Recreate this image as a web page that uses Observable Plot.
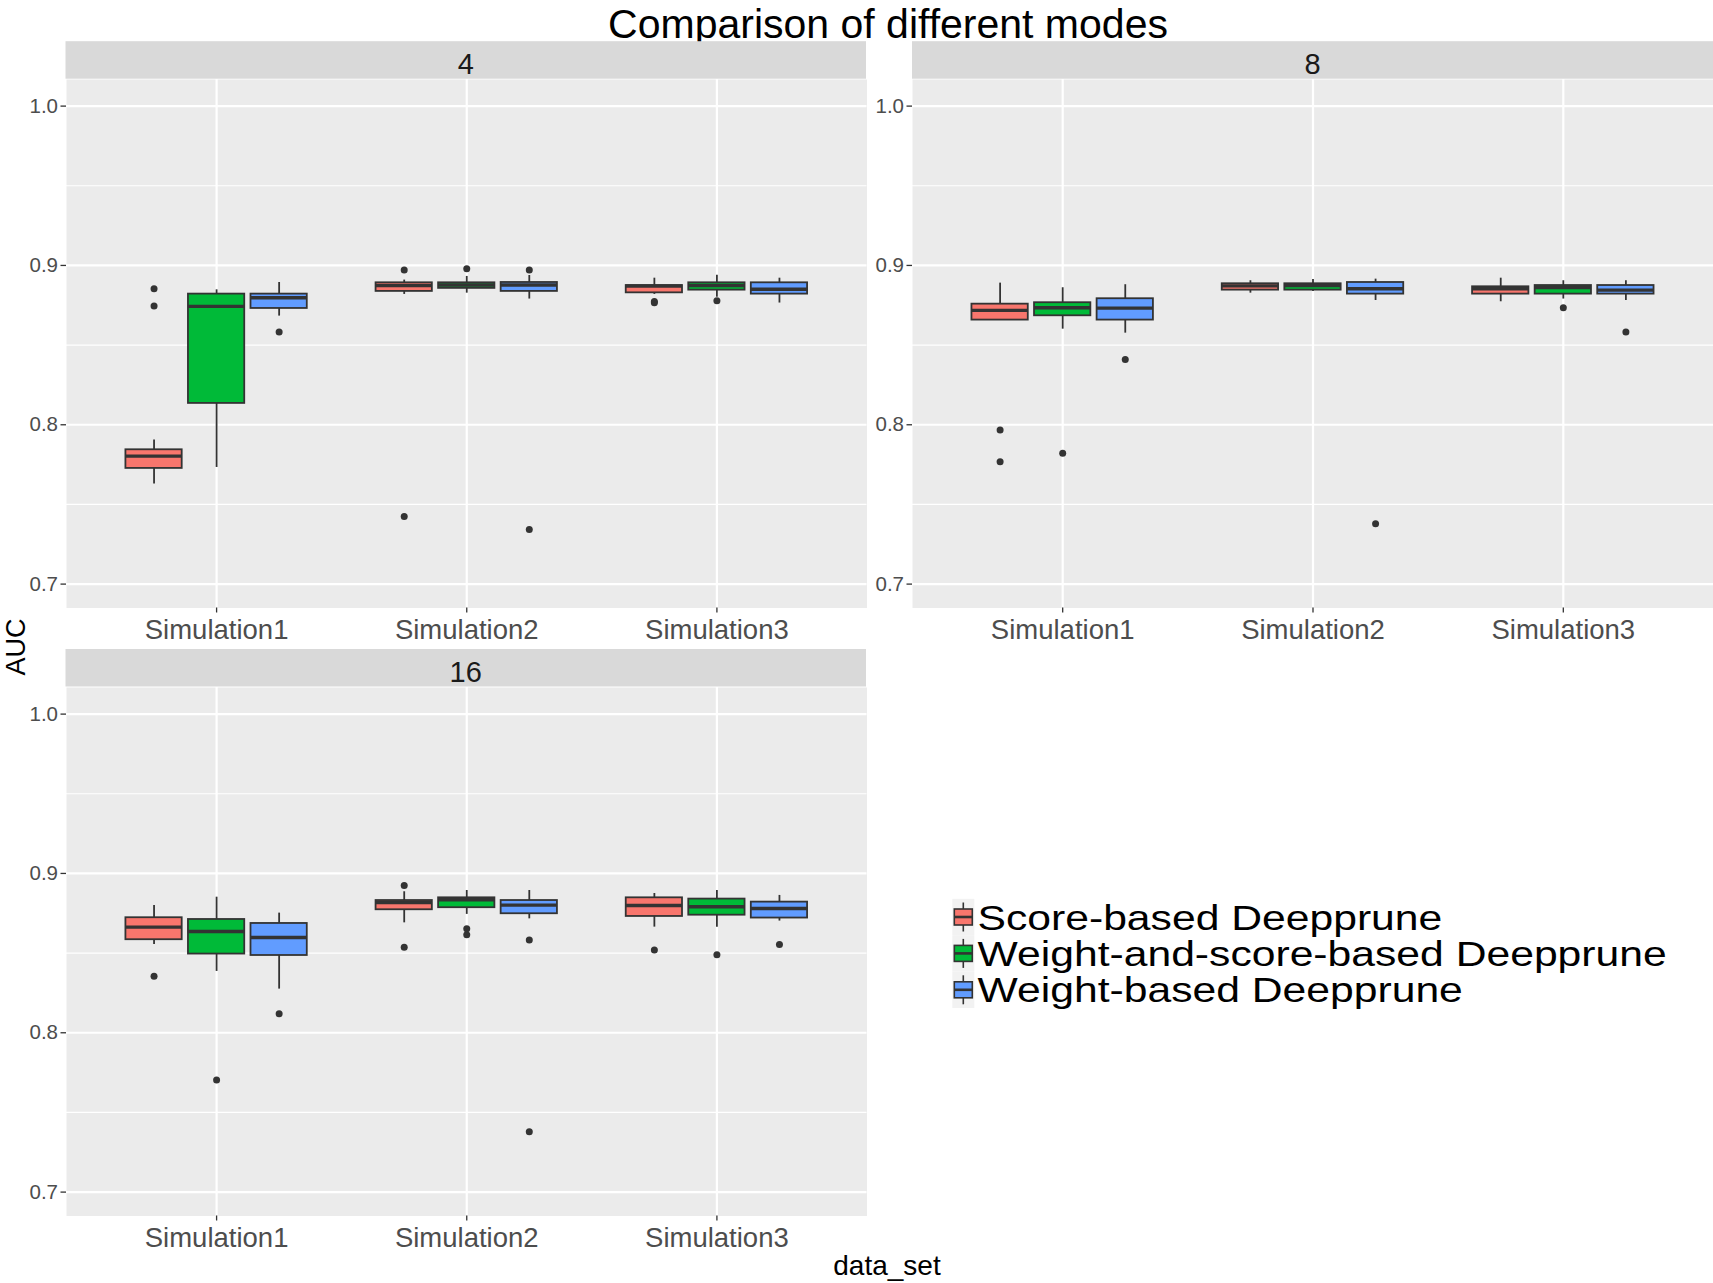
<!DOCTYPE html>
<html><head><meta charset="utf-8">
<script src="https://cdn.jsdelivr.net/npm/d3@7"></script>
<script src="https://cdn.jsdelivr.net/npm/@observablehq/plot@0.6"></script>
<style>
html,body{margin:0;padding:0;background:#fff;}
#fig{position:relative;width:1713px;height:1283px;overflow:hidden;font-family:"Liberation Sans",Arial,sans-serif;}
#fig > svg{position:absolute;}
</style></head><body><div id="fig"></div>
<script>
// ---------- data ----------
const panels = ["4", "8", "16"];
const dataSets = ["Simulation1", "Simulation2", "Simulation3"];
const modes = ["Score-based Deepprune", "Weight-and-score-based Deepprune", "Weight-based Deepprune"];
const modeColors = ["#F8766D", "#00BA38", "#619CFF"];
const yBreaks = [0.7, 0.8, 0.9, 1.0];
const yMinorBreaks = [0.75, 0.85, 0.95];
const title = "Comparison of different modes";
const xTitle = "data_set";
const yTitle = "AUC";

// box statistics, ordered panel -> data set -> mode
const lowerWhisker = [
  0.7628, 0.7732, 0.8682, 0.8818, 0.8826, 0.8789, 0.8818, 0.8800, 0.8764,
  0.8657, 0.8600, 0.8575, 0.8826, 0.8837, 0.8780, 0.8772, 0.8789, 0.8780,
  0.8554, 0.8385, 0.8274, 0.8690, 0.8743, 0.8715, 0.8663, 0.8663, 0.8701
];
const q1 = [
  0.7726, 0.8134, 0.8730, 0.8837, 0.8856, 0.8837, 0.8828, 0.8845, 0.8820,
  0.8657, 0.8684, 0.8657, 0.8845, 0.8845, 0.8820, 0.8820, 0.8820, 0.8820,
  0.8584, 0.8494, 0.8485, 0.8772, 0.8785, 0.8747, 0.8730, 0.8738, 0.8720
];
const median = [
  0.7803, 0.8743, 0.8797, 0.8874, 0.8877, 0.8877, 0.8870, 0.8874, 0.8851,
  0.8718, 0.8734, 0.8732, 0.8872, 0.8874, 0.8854, 0.8854, 0.8862, 0.8845,
  0.8663, 0.8636, 0.8598, 0.8818, 0.8835, 0.8801, 0.8799, 0.8791, 0.8780
];
const q3 = [
  0.7843, 0.8820, 0.8820, 0.8891, 0.8891, 0.8893, 0.8874, 0.8891, 0.8891,
  0.8757, 0.8766, 0.8791, 0.8885, 0.8885, 0.8893, 0.8866, 0.8874, 0.8874,
  0.8722, 0.8711, 0.8686, 0.8830, 0.8847, 0.8830, 0.8847, 0.8839, 0.8820
];
const upperWhisker = [
  0.7904, 0.8847, 0.8893, 0.8908, 0.8931, 0.8937, 0.8920, 0.8939, 0.8920,
  0.8889, 0.8860, 0.8879, 0.8904, 0.8912, 0.8914, 0.8920, 0.8904, 0.8904,
  0.8799, 0.8851, 0.8751, 0.8885, 0.8893, 0.8893, 0.8874, 0.8893, 0.8862
];
// outliers: [panel index, data set index, mode index, AUC]
const outliers = [
  [0,0,0,0.8854],[0,0,0,0.8745],[0,0,2,0.8582],[0,1,0,0.8971],[0,1,0,0.7425],
  [0,1,1,0.8979],[0,1,2,0.8971],[0,1,2,0.7343],[0,2,0,0.8766],[0,2,0,0.8773],[0,2,1,0.8778],
  [1,0,0,0.7967],[1,0,0,0.7768],[1,0,1,0.7822],[1,0,2,0.8410],[1,1,2,0.7379],
  [1,2,1,0.8734],[1,2,2,0.8582],
  [2,0,0,0.8354],[2,0,1,0.7703],[2,0,2,0.8119],[2,1,0,0.8925],[2,1,0,0.8536],
  [2,1,1,0.8653],[2,1,1,0.8615],[2,1,2,0.8582],[2,1,2,0.7379],[2,2,0,0.8519],
  [2,2,1,0.8490],[2,2,2,0.8554]
];

// ---------- build tables ----------
const dodge = 0.25, halfBox = 0.1125;
const boxes = [];
let k = 0;
panels.forEach((p, pi) => dataSets.forEach((s, si) => modes.forEach((m, mi) => {
  boxes.push({panel: p, set: s, mode: m, pos: si + 1 + (mi - 1) * dodge,
    lo: lowerWhisker[k], q1: q1[k], med: median[k], q3: q3[k], hi: upperWhisker[k]});
  k++;
})));
const outs = outliers.map(([pi, si, mi, v]) => ({panel: panels[pi], set: dataSets[si], mode: modes[mi],
  pos: si + 1 + (mi - 1) * dodge, value: v}));

// ---------- layout ----------
const FONT = '"Liberation Sans", Arial, sans-serif';
const layout = {
  "4":  {left: 65.5, top: 78.7, w: 800.5, h: 528.5},
  "8":  {left: 912,  top: 78.7, w: 801,   h: 528.5},
  "16": {left: 65.5, top: 686.5, w: 800.5, h: 528.5}
};
const stripH = 37.5;
const fig = document.getElementById("fig");

// overlay: title, strips, axis titles, legend
const W = 1713, H = 1283;
const svg = d3.select(fig).append("svg").attr("width", W).attr("height", H)
  .style("left", "0px").style("top", "0px").style("font-family", FONT);

svg.append("text").attr("x", 888).attr("y", 37.5).attr("text-anchor", "middle")
  .attr("font-size", 41).attr("fill", "#000").text(title);

panels.forEach(p => {
  const L = layout[p];
  svg.append("rect").attr("x", L.left).attr("y", L.top - stripH).attr("width", L.w).attr("height", stripH)
    .attr("fill", "#D9D9D9");
  svg.append("text").attr("x", L.left + L.w / 2).attr("y", L.top - 5).attr("text-anchor", "middle")
    .attr("font-size", 29).attr("fill", "#1A1A1A").text(p);
});

svg.append("text").attr("transform", "translate(24.5,647) rotate(-90)").attr("text-anchor", "middle")
  .attr("font-size", 27).attr("fill", "#000").text(yTitle);
svg.append("text").attr("x", 887).attr("y", 1275).attr("text-anchor", "middle")
  .attr("font-size", 28).attr("fill", "#000").text(xTitle);

// legend
const legX = 952.3, legY0 = 917, legStep = 36.4;
modes.forEach((m, i) => {
  const cy = legY0 + i * legStep;
  const g = svg.append("g");
  g.append("rect").attr("x", legX).attr("y", cy - legStep / 2).attr("width", 22).attr("height", legStep)
    .attr("fill", "#F2F2F2");
  const cx = legX + 11;
  g.append("line").attr("x1", cx).attr("x2", cx).attr("y1", cy - 14.5).attr("y2", cy + 14.5)
    .attr("stroke", "#333").attr("stroke-width", 1.6);
  g.append("rect").attr("x", legX + 2).attr("y", cy - 8).attr("width", 18).attr("height", 16)
    .attr("fill", modeColors[i]).attr("stroke", "#333").attr("stroke-width", 1.6);
  g.append("line").attr("x1", legX + 2).attr("x2", legX + 20).attr("y1", cy).attr("y2", cy)
    .attr("stroke", "#333").attr("stroke-width", 2.6);
  svg.append("text").attr("transform", `translate(977.5,${cy + 12.5}) scale(1.255,1.04)`)
    .attr("font-size", 34).attr("fill", "#000").text(m);
});

// ---------- panels ----------
const mL = 70, mB = 52;
panels.forEach(p => {
  const L = layout[p];
  const rows = boxes.filter(d => d.panel === p);
  const pts = outs.filter(d => d.panel === p);
  const chart = Plot.plot({
    width: L.w + mL, height: L.h + mB,
    marginLeft: mL, marginRight: 0, marginTop: 0, marginBottom: mB,
    x: {domain: [0.4, 3.6]},
    y: {domain: [0.685, 1.0167]},
    color: {domain: modes, range: modeColors},
    style: {fontFamily: FONT, background: "transparent", overflow: "visible"},
    marks: [
      Plot.frame({fill: "#EBEBEB", stroke: null}),
      Plot.ruleY(yMinorBreaks, {stroke: "white", strokeWidth: 1.2}),
      Plot.ruleY(yBreaks, {stroke: "white", strokeWidth: 2.2}),
      Plot.ruleX(dataSets.map((s, i) => i + 1), {stroke: "white", strokeWidth: 2.2}),
      Plot.axisY({ticks: yBreaks, tickSize: 5.5, tickPadding: 3, fontSize: 20.5,
        tickFormat: d3.format(".1f"), fill: "#4D4D4D", stroke: "#333", strokeWidth: 1.3, label: null}),
      Plot.axisX({ticks: dataSets.map((s, i) => i + 1), tickSize: 5, tickPadding: 6, fontSize: 27.5,
        tickFormat: i => dataSets[i - 1], fill: "#4D4D4D", stroke: "#333", strokeWidth: 1.3, label: null}),
      Plot.ruleX(rows, {x: "pos", y1: "lo", y2: "q1", stroke: "#333", strokeWidth: 1.8}),
      Plot.ruleX(rows, {x: "pos", y1: "q3", y2: "hi", stroke: "#333", strokeWidth: 1.8}),
      Plot.rect(rows, {x1: d => d.pos - halfBox, x2: d => d.pos + halfBox, y1: "q1", y2: "q3",
        fill: "mode", stroke: "#333", strokeWidth: 1.8}),
      Plot.ruleY(rows, {x1: d => d.pos - halfBox, x2: d => d.pos + halfBox, y: "med",
        stroke: "#333", strokeWidth: 3.4}),
      Plot.dot(pts, {x: "pos", y: "value", r: 3.5, fill: "#333", stroke: null})
    ]
  });
  chart.style.left = (L.left - mL) + "px";
  chart.style.top = L.top + "px";
  fig.appendChild(chart);
});
</script>
</body></html>
